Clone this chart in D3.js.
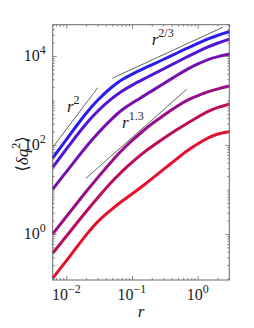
<!DOCTYPE html>
<html lang="en">
<head>
<meta charset="UTF-8">
<title>Structure function curves</title>
<script src="https://d3js.org/d3.v7.min.js"></script>
<style>
  body { margin: 0; background: #fff; }
  svg { display: block; font-family: "Liberation Serif", "DejaVu Serif", serif; }
  .frame { fill: none; stroke: #6a6a6a; stroke-width: 1; }
  .axis path { stroke: none; }
  .axis line { stroke: #6a6a6a; stroke-width: 0.8; }
  .tick-label { font-size: 16px; fill: #222; }
  .curve { fill: none; stroke-width: 3; stroke-linejoin: round; }
  .guide { stroke: #222; stroke-width: 0.7; }
  .note { font-size: 17px; fill: #222; }
</style>
</head>
<body>
<div id="chart"></div>
<script>
// separations r (shared by all curves)
const rValues = [0.0062, 0.01, 0.015, 0.02, 0.03, 0.05, 0.07, 0.1, 0.15, 0.2, 0.3, 0.5, 0.7, 1, 1.5, 2, 3.03];

// <dq^2> for each curve, top (blue) to bottom (red)
const curveA = [50.8, 132, 297, 521, 1038, 2070, 2944, 3917, 5200, 6324, 8337, 11910, 15070, 19190, 24890, 29170, 35160];
const curveB = [31.4, 80.9, 177, 303, 587, 1143, 1626, 2218, 3020, 3767, 5105, 7482, 9705, 12560, 16440, 19500, 23710];
const curveC = [10.1, 24.9, 53.5, 91.6, 183, 398, 621, 874, 1256, 1634, 2371, 3781, 5105, 6610, 8650, 9590, 11090];
const curveD = [1.0, 2.45, 5.24, 8.97, 18.5, 44.6, 77.2, 126, 213, 298, 462, 772, 1037, 1288, 1601, 1822, 2118];
const curveE = [0.368, 0.888, 1.88, 3.19, 6.58, 15.4, 25.4, 41.0, 67.8, 91.5, 139, 230, 309, 424, 590, 700, 822];
const curveF = [0.101, 0.247, 0.546, 0.95, 1.96, 3.65, 5.46, 7.92, 12.4, 17.3, 28.1, 51.0, 75.6, 106, 150, 179, 199];
const curveColors = ["#2b1cf0", "#5414d4", "#7510ae", "#980e86", "#bb0d5c", "#e80f2d"];

// power-law guide segments [r, q] end points, with their labels
const guideR2 = [[0.00634, 91.6], [0.0301, 1940]];
const guideR23 = [[0.0501, 3155], [2.40, 44150]];
const guideR13 = [[0.01995, 17.9], [0.680, 1786]];
const guideLabels = [
  { r: 0.01025, q: 552, exp: "2" },
  { r: 0.1995, q: 17660, exp: "2/3" },
  { r: 0.0705, q: 241, exp: "1.3" }
];

// axis ticks
const xMajor = [0.01, 0.1, 1];
const xMajorLabels = ["\u22122", "\u22121", "0"];
const yMajor = [1, 100, 10000];
const yMajorLabels = ["0", "2", "4"];

const width = 254, height = 328;
const plotLeft = 52.7, plotRight = 229.3, plotTop = 24.7, plotBottom = 280;

const x = d3.scaleLog().domain([0.00621, 3.027]).range([plotLeft, plotRight]);
const y = d3.scaleLog().domain([0.0925, 50470]).range([plotBottom, plotTop]);

const svg = d3.select("#chart").append("svg")
  .attr("width", width)
  .attr("height", height);

// curves
const series = [curveA, curveB, curveC, curveD, curveE, curveF];
const line = d3.line()
  .x(d => x(d[0]))
  .y(d => y(d[1]))
  .curve(d3.curveBasis);

svg.selectAll(".curve")
  .data(series)
  .enter()
  .append("path")
  .attr("class", "curve")
  .attr("stroke", (d, i) => curveColors[i])
  .attr("d", d => line(d.map((q, i) => [rValues[i], q])));

// guide lines
svg.selectAll(".guide")
  .data([guideR2, guideR23, guideR13])
  .enter()
  .append("line")
  .attr("class", "guide")
  .attr("x1", d => x(d[0][0]))
  .attr("y1", d => y(d[0][1]))
  .attr("x2", d => x(d[1][0]))
  .attr("y2", d => y(d[1][1]));

const notes = svg.selectAll(".note-label")
  .data(guideLabels)
  .enter()
  .append("text")
  .attr("class", "note")
  .attr("x", d => x(d.r))
  .attr("y", d => y(d.q));
notes.append("tspan").attr("font-style", "italic").text("r");
notes.append("tspan").attr("dy", -8).attr("font-size", 12).text(d => d.exp);

// frame and ticks
const isMajor = (list) => (v) => list.some(m => Math.abs(m - v) / m < 1e-6);
const xMinor = x.ticks().filter(v => !isMajor(xMajor)(v));
const yMinor = y.ticks().filter(v => !isMajor(yMajor)(v));

function addAxis(axisFn, scale, values, size, tx, ty) {
  svg.append("g")
    .attr("class", "axis")
    .attr("transform", `translate(${tx},${ty})`)
    .call(axisFn(scale).tickValues(values).tickSize(-size).tickFormat(""));
}

addAxis(d3.axisBottom, x, xMajor, 4, 0, plotBottom);
addAxis(d3.axisBottom, x, xMinor, 2, 0, plotBottom);
addAxis(d3.axisTop, x, xMajor, 4, 0, plotTop);
addAxis(d3.axisTop, x, xMinor, 2, 0, plotTop);
addAxis(d3.axisLeft, y, yMajor, 4, plotLeft, 0);
addAxis(d3.axisLeft, y, yMinor, 2, plotLeft, 0);
addAxis(d3.axisRight, y, yMajor, 4, plotRight, 0);
addAxis(d3.axisRight, y, yMinor, 2, plotRight, 0);

svg.append("rect")
  .attr("class", "frame")
  .attr("x", plotLeft)
  .attr("y", plotTop)
  .attr("width", plotRight - plotLeft)
  .attr("height", plotBottom - plotTop);

// tick labels with superscript exponents
const xl = svg.selectAll(".xlab")
  .data(xMajor)
  .enter()
  .append("text")
  .attr("class", "tick-label")
  .attr("text-anchor", "middle")
  .attr("x", d => x(d))
  .attr("y", plotBottom + 20);
xl.append("tspan").text("10");
xl.append("tspan").attr("dy", -7).attr("font-size", 12).text((d, i) => xMajorLabels[i]);

const yl = svg.selectAll(".ylab")
  .data(yMajor)
  .enter()
  .append("text")
  .attr("class", "tick-label")
  .attr("text-anchor", "end")
  .attr("x", plotLeft - 7)
  .attr("y", d => y(d) + 5.5);
yl.append("tspan").text("10");
yl.append("tspan").attr("dy", -7).attr("font-size", 12).text((d, i) => yMajorLabels[i]);

// axis titles
svg.append("text")
  .attr("class", "note")
  .attr("font-size", 17)
  .attr("font-style", "italic")
  .attr("text-anchor", "middle")
  .attr("x", (plotLeft + plotRight) / 2)
  .attr("y", 317)
  .text("r");

const yt = svg.append("text")
  .attr("class", "note")
  .attr("font-size", 18)
  .attr("text-anchor", "middle")
  .attr("transform", "translate(28,154) rotate(-90)");
yt.append("tspan").text("\u27E8");
yt.append("tspan").attr("font-style", "italic").text("\u03B4q");
yt.append("tspan").attr("dy", -8).attr("font-size", 12).text("2");
yt.append("tspan").attr("dy", 8).text("\u27E9");
</script>
</body>
</html>
